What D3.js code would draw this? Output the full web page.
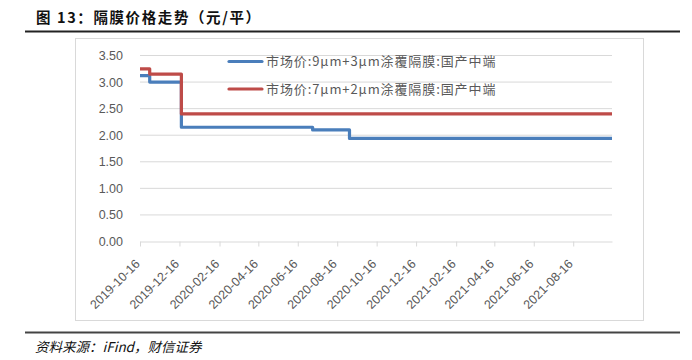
<!DOCTYPE html>
<html>
<head>
<meta charset="utf-8">
<script src="https://cdn.jsdelivr.net/npm/d3@7"></script>
<style>
  body { margin: 0; background: #fff; }
  svg { display: block; }
  .tick text { fill: #595959; }
</style>
</head>
<body>
<div id="chart"></div>
<script>
// data
const tickLabels = ["2019-10-16", "2019-12-16", "2020-02-16", "2020-04-16", "2020-06-16", "2020-08-16",
                    "2020-10-16", "2020-12-16", "2021-02-16", "2021-04-16", "2021-06-16", "2021-08-16"];
const yTicks = [0, 0.5, 1, 1.5, 2, 2.5, 3, 3.5];

const blueName = "市场价:9μm+3μm涂覆隔膜:国产中端";
const blueDates = ["2019-10-16", "2019-10-31", "2019-12-19", "2020-07-09", "2020-09-04", "2021-10-15"];
const blueValues = [3.12, 3.00, 2.15, 2.10, 1.94, 1.94];

const redName = "市场价:7μm+2μm涂覆隔膜:国产中端";
const redDates = ["2019-10-16", "2019-10-31", "2019-12-19", "2021-10-15"];
const redValues = [3.25, 3.15, 2.40, 2.40];

const W = 692, H = 360;
const parse = d3.timeParse("%Y-%m-%d");

const svg = d3.select("#chart").append("svg")
    .attr("width", W)
    .attr("height", H);

// title + rules
svg.append("text")
    .attr("x", 36).attr("y", 23)
    .style("font-family", "'Noto Sans CJK SC', sans-serif")
    .style("font-weight", "bold")
    .style("font-size", "14.5px")
    .style("letter-spacing", "1.6px")
    .attr("fill", "#111")
    .text("图 13：隔膜价格走势（元/平）");

svg.append("line").attr("x1", 25).attr("x2", 680).attr("y1", 31.5).attr("y2", 31.5)
    .attr("stroke", "#222").attr("stroke-width", 2);
svg.append("line").attr("x1", 25).attr("x2", 680).attr("y1", 332.5).attr("y2", 332.5)
    .attr("stroke", "#444").attr("stroke-width", 2);

svg.append("text")
    .attr("x", 35).attr("y", 352)
    .style("font-family", "'Noto Sans CJK SC', serif")
    .style("font-style", "italic")
    .style("font-size", "13.5px")
    .attr("fill", "#111")
    .text("资料来源：iFind，财信证券");

// chart frame
svg.append("rect")
    .attr("x", 75.5).attr("y", 38.5).attr("width", 568).attr("height", 282)
    .attr("fill", "none").attr("stroke", "#d9d9d9");

const x = d3.scaleTime()
    .domain([parse("2019-10-16"), parse("2021-10-15")])
    .range([140, 612]);

const y = d3.scaleLinear()
    .domain([0, 3.5])
    .range([241.5, 55.5]);

// gridlines
svg.append("g")
    .selectAll("line")
    .data(yTicks.slice(1))
    .enter().append("line")
    .attr("x1", 140).attr("x2", 612)
    .attr("y1", d => y(d)).attr("y2", d => y(d))
    .attr("stroke", "#d9d9d9");

// y axis labels
const yAxis = svg.append("g")
    .attr("transform", "translate(140,0)")
    .call(d3.axisLeft(y).tickValues(yTicks).tickFormat(d3.format(".2f")).tickSize(0).tickPadding(17));
yAxis.select(".domain").remove();
yAxis.selectAll("text")
    .style("font-family", "'Liberation Sans', Arial, sans-serif")
    .style("font-size", "12.5px");

// x axis
const xAxis = svg.append("g")
    .attr("transform", "translate(0,241.5)")
    .call(d3.axisBottom(x).tickValues(tickLabels.map(parse)).tickFormat(d3.timeFormat("%Y-%m-%d")).tickSize(5).tickSizeOuter(0));
xAxis.select(".domain").attr("stroke", "#d9d9d9");
xAxis.selectAll(".tick line").attr("stroke", "#d9d9d9");
xAxis.selectAll("text")
    .style("font-family", "'Liberation Sans', Arial, sans-serif")
    .style("font-size", "12.5px")
    .attr("text-anchor", "end")
    .attr("y", 0)
    .attr("dy", "0.35em")
    .attr("transform", "translate(-3,20) rotate(-45)");

// series
const line = d3.line()
    .x(d => x(d.date))
    .y(d => y(d.value))
    .curve(d3.curveStepAfter);

const series = [
    { name: blueName, color: "#4a7ebb", dates: blueDates, values: blueValues },
    { name: redName, color: "#be4b48", dates: redDates, values: redValues }
];

series.forEach((s, i) => {
    const pts = s.dates.map((d, j) => ({ date: parse(d), value: s.values[j] }));
    svg.append("path")
        .datum(pts)
        .attr("d", line)
        .attr("fill", "none")
        .attr("stroke", s.color)
        .attr("stroke-width", 3.2)
        .attr("stroke-linejoin", "round");

    // legend
    const ly = 61.5 + i * 27.5;
    svg.append("line")
        .attr("x1", 229).attr("x2", 262)
        .attr("y1", ly).attr("y2", ly)
        .attr("stroke", s.color).attr("stroke-width", 3.2)
        .attr("stroke-linecap", "round");
    svg.append("text")
        .attr("x", 266).attr("y", ly + 4.5)
        .style("font-family", "'Noto Sans CJK SC', sans-serif")
        .style("font-size", "13px")
        .style("letter-spacing", "0.9px")
        .attr("fill", "#595959")
        .text(s.name);
});
</script>
</body>
</html>
